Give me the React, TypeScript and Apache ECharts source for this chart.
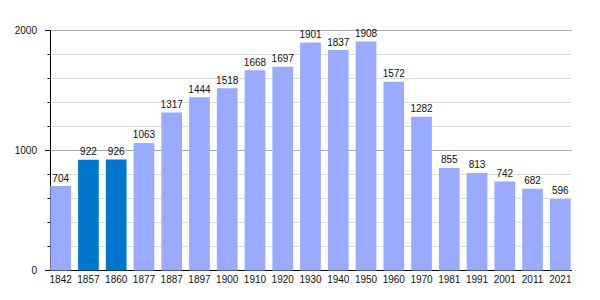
import React, { useEffect, useRef } from "react";
import * as echarts from "echarts";

const years = ["1842", "1857", "1860", "1877", "1887", "1897", "1900", "1910", "1920", "1930", "1940", "1950", "1960", "1970", "1981", "1991", "2001", "2011", "2021"];
const population = [704, 922, 926, 1063, 1317, 1444, 1518, 1668, 1697, 1901, 1837, 1908, 1572, 1282, 855, 813, 742, 682, 596];
const highlightedYears = ["1857", "1860"];
const yTicks = { min: 0, max: 2000, interval: 1000 };

const FONT = "Liberation Sans, Arial, sans-serif";

export default function App() {
  const ref = useRef<HTMLDivElement>(null);
  useEffect(() => {
    if (!ref.current) return;
    const chart = echarts.init(ref.current, undefined, { renderer: "svg" });
    const top = 30.5;
    const bottom = 29.5;
    chart.setOption({
      animation: false,
      backgroundColor: "#ffffff",
      grid: [
        { left: 50, right: 28.5, top, bottom },
        { left: 46.8, width: 527.4, top, bottom },
      ],
      xAxis: [
        {
          gridIndex: 0,
          type: "value",
          min: 0,
          max: 1,
          axisLine: { show: true, lineStyle: { color: "#000", width: 1 } },
          axisTick: { show: false },
          axisLabel: { show: false },
          splitLine: { show: false },
        },
        {
          gridIndex: 1,
          type: "category",
          data: years,
          axisLine: { show: false },
          axisTick: { show: false },
          axisLabel: { interval: 0, margin: 4, fontSize: 10, color: "#111", fontFamily: FONT },
        },
      ],
      yAxis: [
        {
          gridIndex: 0,
          type: "value",
          min: yTicks.min,
          max: yTicks.max,
          interval: yTicks.interval,
          axisLine: { show: true, lineStyle: { color: "#000", width: 1 } },
          axisTick: { show: true, length: 5, lineStyle: { color: "#000" } },
          minorTick: { show: true, splitNumber: 5, length: 2.5, lineStyle: { color: "#000" } },
          splitLine: { show: true, lineStyle: { color: "#aaaaaa", width: 1 } },
          minorSplitLine: { show: true, lineStyle: { color: "#dddddd", width: 1 } },
          axisLabel: {
            margin: 13,
            fontSize: 10,
            color: "#111",
            fontFamily: FONT,
            formatter: (v: number) => String(v),
          },
        },
        {
          gridIndex: 1,
          type: "value",
          min: yTicks.min,
          max: yTicks.max,
          show: false,
          splitLine: { show: false },
        },
      ],
      series: [
        {
          type: "bar",
          xAxisIndex: 1,
          yAxisIndex: 1,
          data: population,
          barWidth: 20.7,
          itemStyle: {
            color: (p: any) => (highlightedYears.includes(years[p.dataIndex]) ? "#0077cc" : "#99aaff"),
          },
          label: {
            show: true,
            position: "top",
            distance: 3,
            fontSize: 10,
            color: "#111",
            fontFamily: FONT,
          },
        },
      ],
    });
    return () => chart.dispose();
  }, []);
  return (
    <div
      ref={ref}
      style={{ position: "fixed", left: 0, top: 0, width: 600, height: 300, background: "#fff" }}
    />
  );
}
